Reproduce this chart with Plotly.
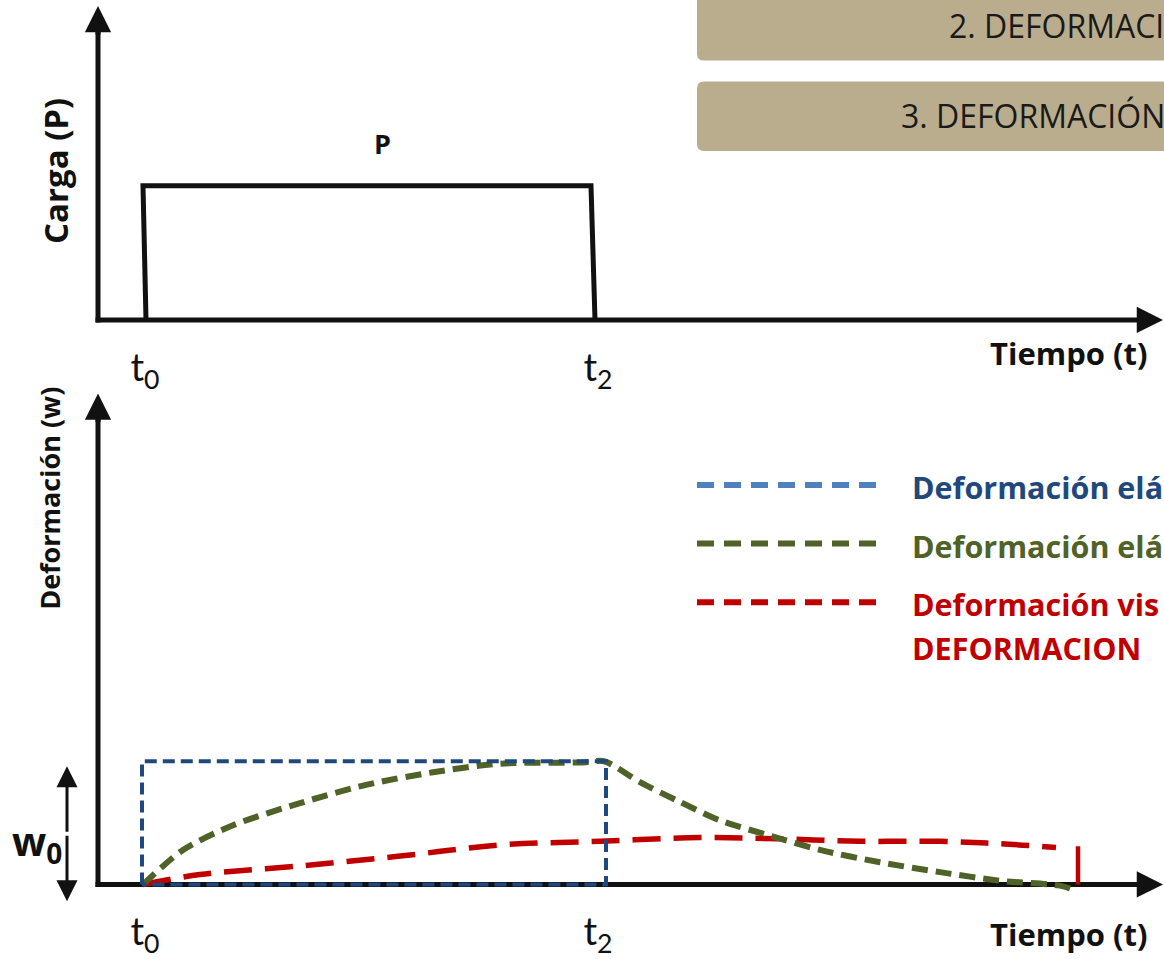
import plotly.graph_objects as go

W, H = 1164, 959

# ---------------- data ----------------
# top panel: applied load P(t)
load_t = [0.48, 0.45, 4.93, 4.97]
load_p = [0, 1, 1, 0]
load_label = "P"

tick_vals = [0.47, 5.0]
tick_text = ["t<sub>0</sub>", "t<sub>2</sub>"]

# bottom panel: deformation w(t)
inst_t = [0.44, 0.44, 5.08, 5.08, 0.44]
inst_w = [0, 1, 1, 0, 0]

dif_t = [0.45, 0.85, 1.35, 2.02, 2.69, 3.35, 4.02, 4.85, 5.06, 5.42, 5.82, 6.22,
         6.70, 7.22, 7.82, 8.42, 9.02, 9.62, 9.78]
dif_w = [0, 0.28, 0.48, 0.66, 0.81, 0.91, 0.98, 0.99, 1.0, 0.83, 0.67, 0.52,
         0.40, 0.28, 0.18, 0.10, 0.03, -0.01, -0.05]

visc_t = [0.45, 1.02, 2.02, 3.02, 4.02, 5.02, 6.02, 6.82, 7.62, 8.42, 9.02, 9.58]
visc_w = [0, 0.08, 0.15, 0.23, 0.32, 0.35, 0.38, 0.37, 0.35, 0.35, 0.33, 0.30]
perm_t = [9.80, 9.80]
perm_w = [0.31, 0]

# texts as visible in the reference (cut at the right edge)
legend_labels = ["Deformación elá", "Deformación elá", "Deformación vis"]
legend_extra = "DEFORMACION"
box_labels = ["2. DEFORMACI", "3. DEFORMACIÓN"]
time_label = "Tiempo (t)"
load_axis_label = "Carga (P)"
def_axis_label = "Deformación (w)"
w0_label = "w<sub>0</sub>"

# ---------------- styling ----------------
FONT = "Open Sans"
BLACK = "#111111"
DBLUE = "#1F497D"
LBLUE = "#4F81BD"
GREEN = "#4F6228"
RED = "#C00000"
TAN = "#BAAD8D"


def px(x):
    return x / W


def py(y):
    return 1 - y / H


fig = go.Figure()

# load pulse
fig.add_trace(go.Scatter(x=load_t, y=load_p, mode="lines", xaxis="x", yaxis="y",
                         line=dict(color=BLACK, width=5), showlegend=False,
                         hoverinfo="skip"))

# deformation curves
fig.add_trace(go.Scatter(x=visc_t, y=visc_w, mode="lines", xaxis="x2", yaxis="y2",
                         line=dict(color=RED, width=5.5, dash="28px,13px", shape="spline"),
                         showlegend=False, hoverinfo="skip"))
fig.add_trace(go.Scatter(x=perm_t, y=perm_w, mode="lines", xaxis="x2", yaxis="y2",
                         line=dict(color=RED, width=4.5), showlegend=False,
                         hoverinfo="skip"))
fig.add_trace(go.Scatter(x=dif_t, y=dif_w, mode="lines", xaxis="x2", yaxis="y2",
                         line=dict(color=GREEN, width=6, dash="16px,8px", shape="spline",
                                   smoothing=0.8),
                         showlegend=False, hoverinfo="skip"))
fig.add_trace(go.Scatter(x=inst_t, y=inst_w, mode="lines", xaxis="x2", yaxis="y2",
                         line=dict(color=DBLUE, width=4, dash="12px,6px"),
                         showlegend=False, hoverinfo="skip"))

x_dom = [px(60), 1]
x_rng = [-0.38, (W - 98) / 100]
TOP_BASE, TOP_SCALE = 322, 135      # px of P=0, px per unit of P
BOT_BASE, BOT_SCALE = 890, 124      # px of w=0, px per unit of w
common_x = dict(domain=x_dom, range=x_rng, showgrid=False, zeroline=False,
                showline=False, tickmode="array", tickvals=tick_vals,
                ticktext=tick_text, ticks="outside",
                tickcolor="rgba(0,0,0,0)",
                tickfont=dict(family="Lato", size=38, color=BLACK))

fig.update_layout(
    width=W, height=H, margin=dict(l=0, r=0, t=0, b=0),
    paper_bgcolor="white", plot_bgcolor="rgba(0,0,0,0)",
    xaxis=dict(**common_x, anchor="y", ticklen=6),
    yaxis=dict(domain=[py(330), py(8)],
               range=[-(330 - TOP_BASE) / TOP_SCALE, (TOP_BASE - 8) / TOP_SCALE],
               visible=False, anchor="x"),
    xaxis2=dict(**common_x, anchor="y2", ticklen=2),
    yaxis2=dict(domain=[py(902), py(398)],
                range=[-(902 - BOT_BASE) / BOT_SCALE, (BOT_BASE - 398) / BOT_SCALE],
                visible=False, anchor="x2"),
)


def rounded_rect(x0, y0, x1, y1, r):
    pts = [
        f"M{px(x0 + r)},{py(y0)}",
        f"L{px(x1 - r)},{py(y0)}",
        f"Q{px(x1)},{py(y0)} {px(x1)},{py(y0 + r)}",
        f"L{px(x1)},{py(y1 - r)}",
        f"Q{px(x1)},{py(y1)} {px(x1 - r)},{py(y1)}",
        f"L{px(x0 + r)},{py(y1)}",
        f"Q{px(x0)},{py(y1)} {px(x0)},{py(y1 - r)}",
        f"L{px(x0)},{py(y0 + r)}",
        f"Q{px(x0)},{py(y0)} {px(x0 + r)},{py(y0)}",
        "Z",
    ]
    return " ".join(pts)


shapes = []
# tan boxes
shapes.append(dict(type="path", xref="paper", yref="paper",
                   path=rounded_rect(697, -20, 1200, 61, 7),
                   fillcolor=TAN, line=dict(width=0), layer="below"))
shapes.append(dict(type="path", xref="paper", yref="paper",
                   path=rounded_rect(697, 82, 1200, 152, 7),
                   fillcolor=TAN, line=dict(width=0), layer="below"))


def axis_line(x0, y0, x1, y1, width=5):
    return dict(type="line", xref="paper", yref="paper", layer="below",
                x0=px(x0), y0=py(y0), x1=px(x1), y1=py(y1),
                line=dict(color=BLACK, width=width))


# axis lines (below the curves)
shapes.append(axis_line(98, 324.5, 98, 20))
shapes.append(axis_line(95.5, 322, 1150, 322))
shapes.append(axis_line(98, 892.5, 98, 410))
shapes.append(axis_line(95.5, 890, 1150, 890))

# legend samples
leg_y = [488, 547, 606]
leg_colors = [LBLUE, GREEN, RED]
leg_text_colors = [DBLUE, GREEN, RED]
for yy, c in zip(leg_y, leg_colors):
    shapes.append(dict(type="line", xref="paper", yref="paper",
                       x0=px(697), x1=px(878), y0=py(yy), y1=py(yy),
                       line=dict(color=c, width=6, dash="17px,10px")))
fig.update_layout(shapes=shapes)

ann = []


def arrow(x_tip, y_tip, dx, dy, width=5, size=1.05):
    # tail offset (dx, dy) in pixels from tip
    return dict(x=px(x_tip), y=py(y_tip), xref="paper", yref="paper",
                ax=dx, ay=dy, axref="pixel", ayref="pixel", text="",
                showarrow=True, arrowhead=2, arrowsize=size, arrowwidth=width,
                arrowcolor=BLACK, standoff=0, startstandoff=0)


# arrow heads of the axes
ann.append(arrow(98, 6, 0, 30))
ann.append(arrow(1178, 322, -40, 0))
ann.append(arrow(98, 396, 0, 30))
ann.append(arrow(1178, 890, -40, 0))
# w0 double arrow
ann.append(arrow(67, 771, 0, 67, width=3, size=1.4))
ann.append(arrow(67, 907, 0, -67, width=3, size=1.4))


def label(x, y, text, size, color=BLACK, angle=0, xanchor="center", bold=True):
    t = f"<b>{text}</b>" if bold else text
    return dict(x=px(x), y=py(y), xref="paper", yref="paper", text=t,
                showarrow=False, textangle=angle, xanchor=xanchor,
                yanchor="middle", font=dict(family=FONT, size=size, color=color))


ann.append(label(56, 172, load_axis_label, 33, angle=-90))
ann.append(label(382, 144, load_label, 27))
ann.append(label(1069, 355, time_label, 31))
ann.append(label(1069, 940, time_label, 31))
ann.append(label(50, 502, def_axis_label, 27, angle=-90))
ann.append(label(37, 848, w0_label, 40))

ann.append(label(947, 26, box_labels[0], 32, color="#1a1a1a", xanchor="left", bold=False))
ann.append(label(899, 116, box_labels[1], 32, color="#1a1a1a", xanchor="left", bold=False))

for yy, txt, c in zip(leg_y, legend_labels, leg_text_colors):
    ann.append(label(910, yy + 2, txt, 30.5, color=c, xanchor="left"))
ann.append(label(910, 652, legend_extra, 30.5, color=RED, xanchor="left"))

fig.update_layout(annotations=ann)

fig.write_html("out.html", config={"displayModeBar": False},
               post_script="document.body.style.margin='0';")
